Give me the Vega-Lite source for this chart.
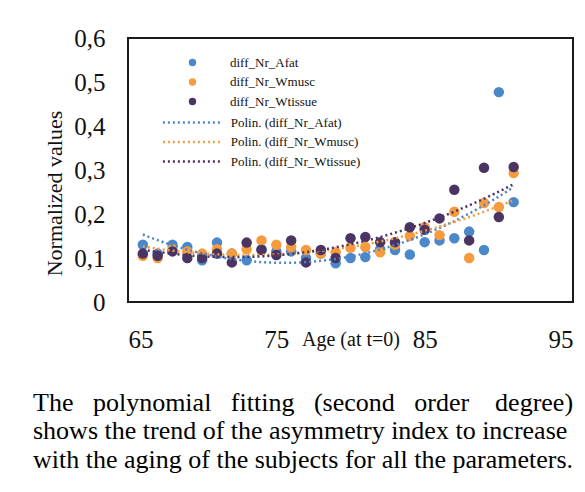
{
  "$schema": "https://vega.github.io/schema/vega-lite/v6.json",
  "width": 445,
  "height": 264,
  "autosize": "none",
  "padding": {"left": 128, "top": 38, "right": 12, "bottom": 190},
  "background": "white",
  "config": {
    "font": "Liberation Serif",
    "view": {"stroke": "#1a1a1a", "strokeWidth": 2},
    "axis": {"grid": false, "domain": false, "ticks": false, "labelFont": "Liberation Serif", "titleFont": "Liberation Serif", "labelColor": "#111111", "titleColor": "#111111", "titleFontWeight": "normal"},
    "legend": {"labelFont": "Liberation Serif", "labelColor": "#111111"}
  },
  "title": {
    "text": ["The\u00a0\u00a0 polynomial\u00a0\u00a0 fitting\u00a0\u00a0 (second\u00a0\u00a0 order\u00a0\u00a0\u00a0 degree)", "shows the trend of the asymmetry index to increase", "with the aging of the subjects for all the parameters."],
    "orient": "bottom",
    "anchor": "start",
    "frame": "group",
    "font": "Liberation Serif",
    "fontSize": 26,
    "fontWeight": "normal",
    "color": "#000000",
    "lineHeight": 28.3,
    "offset": 38,
    "dx": -95
  },
  "data": {
    "values": [
      {"age": 66, "series": "diff_Nr_Afat", "value": 0.13},
      {"age": 67, "series": "diff_Nr_Afat", "value": 0.11},
      {"age": 68, "series": "diff_Nr_Afat", "value": 0.13},
      {"age": 69, "series": "diff_Nr_Afat", "value": 0.125},
      {"age": 70, "series": "diff_Nr_Afat", "value": 0.095},
      {"age": 71, "series": "diff_Nr_Afat", "value": 0.135},
      {"age": 72, "series": "diff_Nr_Afat", "value": 0.11},
      {"age": 73, "series": "diff_Nr_Afat", "value": 0.095},
      {"age": 74, "series": "diff_Nr_Afat", "value": 0.12},
      {"age": 75, "series": "diff_Nr_Afat", "value": 0.115},
      {"age": 76, "series": "diff_Nr_Afat", "value": 0.115},
      {"age": 77, "series": "diff_Nr_Afat", "value": 0.1},
      {"age": 78, "series": "diff_Nr_Afat", "value": 0.11},
      {"age": 79, "series": "diff_Nr_Afat", "value": 0.088},
      {"age": 80, "series": "diff_Nr_Afat", "value": 0.1},
      {"age": 81, "series": "diff_Nr_Afat", "value": 0.102},
      {"age": 82, "series": "diff_Nr_Afat", "value": 0.12},
      {"age": 83, "series": "diff_Nr_Afat", "value": 0.118},
      {"age": 84, "series": "diff_Nr_Afat", "value": 0.108},
      {"age": 85, "series": "diff_Nr_Afat", "value": 0.136},
      {"age": 86, "series": "diff_Nr_Afat", "value": 0.14},
      {"age": 87, "series": "diff_Nr_Afat", "value": 0.145},
      {"age": 88, "series": "diff_Nr_Afat", "value": 0.16},
      {"age": 89, "series": "diff_Nr_Afat", "value": 0.118},
      {"age": 90, "series": "diff_Nr_Afat", "value": 0.477},
      {"age": 91, "series": "diff_Nr_Afat", "value": 0.227},
      {"age": 66, "series": "diff_Nr_Wmusc", "value": 0.105},
      {"age": 67, "series": "diff_Nr_Wmusc", "value": 0.1},
      {"age": 68, "series": "diff_Nr_Wmusc", "value": 0.12},
      {"age": 69, "series": "diff_Nr_Wmusc", "value": 0.115},
      {"age": 70, "series": "diff_Nr_Wmusc", "value": 0.11},
      {"age": 71, "series": "diff_Nr_Wmusc", "value": 0.12},
      {"age": 72, "series": "diff_Nr_Wmusc", "value": 0.11},
      {"age": 73, "series": "diff_Nr_Wmusc", "value": 0.12},
      {"age": 74, "series": "diff_Nr_Wmusc", "value": 0.14},
      {"age": 75, "series": "diff_Nr_Wmusc", "value": 0.13},
      {"age": 76, "series": "diff_Nr_Wmusc", "value": 0.125},
      {"age": 77, "series": "diff_Nr_Wmusc", "value": 0.118},
      {"age": 78, "series": "diff_Nr_Wmusc", "value": 0.11},
      {"age": 79, "series": "diff_Nr_Wmusc", "value": 0.113},
      {"age": 80, "series": "diff_Nr_Wmusc", "value": 0.123},
      {"age": 81, "series": "diff_Nr_Wmusc", "value": 0.125},
      {"age": 82, "series": "diff_Nr_Wmusc", "value": 0.113},
      {"age": 83, "series": "diff_Nr_Wmusc", "value": 0.13},
      {"age": 84, "series": "diff_Nr_Wmusc", "value": 0.15},
      {"age": 85, "series": "diff_Nr_Wmusc", "value": 0.17},
      {"age": 86, "series": "diff_Nr_Wmusc", "value": 0.152},
      {"age": 87, "series": "diff_Nr_Wmusc", "value": 0.205},
      {"age": 88, "series": "diff_Nr_Wmusc", "value": 0.1},
      {"age": 89, "series": "diff_Nr_Wmusc", "value": 0.225},
      {"age": 90, "series": "diff_Nr_Wmusc", "value": 0.216},
      {"age": 91, "series": "diff_Nr_Wmusc", "value": 0.293},
      {"age": 66, "series": "diff_Nr_Wtissue", "value": 0.11},
      {"age": 67, "series": "diff_Nr_Wtissue", "value": 0.105},
      {"age": 68, "series": "diff_Nr_Wtissue", "value": 0.115},
      {"age": 69, "series": "diff_Nr_Wtissue", "value": 0.1},
      {"age": 70, "series": "diff_Nr_Wtissue", "value": 0.1},
      {"age": 71, "series": "diff_Nr_Wtissue", "value": 0.11},
      {"age": 72, "series": "diff_Nr_Wtissue", "value": 0.09},
      {"age": 73, "series": "diff_Nr_Wtissue", "value": 0.135},
      {"age": 74, "series": "diff_Nr_Wtissue", "value": 0.118},
      {"age": 75, "series": "diff_Nr_Wtissue", "value": 0.107},
      {"age": 76, "series": "diff_Nr_Wtissue", "value": 0.14},
      {"age": 77, "series": "diff_Nr_Wtissue", "value": 0.09},
      {"age": 78, "series": "diff_Nr_Wtissue", "value": 0.118},
      {"age": 79, "series": "diff_Nr_Wtissue", "value": 0.1},
      {"age": 80, "series": "diff_Nr_Wtissue", "value": 0.145},
      {"age": 81, "series": "diff_Nr_Wtissue", "value": 0.148},
      {"age": 82, "series": "diff_Nr_Wtissue", "value": 0.136},
      {"age": 83, "series": "diff_Nr_Wtissue", "value": 0.136},
      {"age": 84, "series": "diff_Nr_Wtissue", "value": 0.17},
      {"age": 85, "series": "diff_Nr_Wtissue", "value": 0.164},
      {"age": 86, "series": "diff_Nr_Wtissue", "value": 0.19},
      {"age": 87, "series": "diff_Nr_Wtissue", "value": 0.255},
      {"age": 88, "series": "diff_Nr_Wtissue", "value": 0.14},
      {"age": 89, "series": "diff_Nr_Wtissue", "value": 0.305},
      {"age": 90, "series": "diff_Nr_Wtissue", "value": 0.193},
      {"age": 91, "series": "diff_Nr_Wtissue", "value": 0.307}
    ]
  },
  "layer": [
    {
      "mark": {"type": "point", "filled": true, "opacity": 1, "size": 110},
      "encoding": {
        "x": {"field": "age", "type": "quantitative", "scale": {"domain": [65, 95], "nice": false},
          "axis": {"values": [65, 75, 85, 95], "labelFontSize": 25, "labelPadding": 25, "labelBaseline": "top", "title": "Age (at t=0)", "titleFontSize": 20, "titleX": 222.5, "titleY": 43, "titleBaseline": "alphabetic"}},
        "y": {"field": "value", "type": "quantitative", "scale": {"domain": [0, 0.6], "nice": false},
          "axis": {"values": [0, 0.1, 0.2, 0.3, 0.4, 0.5, 0.6], "labelFontSize": 25, "labelPadding": 23, "labelExpr": "datum.value == 0 ? '0' : replace(format(datum.value, '.1f'), '.', ',')", "title": "Normalized values", "titleFontSize": 22, "titleX": -74, "titleY": 155, "titleAlign": "center", "titleBaseline": "middle", "titleAngle": 270}},
        "color": {"field": "series", "type": "nominal",
          "scale": {"domain": ["diff_Nr_Afat", "diff_Nr_Wmusc", "diff_Nr_Wtissue"], "range": ["#4A88C9", "#F79C3E", "#4A3464"]},
          "legend": {"title": null, "orient": "none", "legendX": 58, "legendY": 18, "padding": 0, "symbolType": "circle", "symbolSize": 55, "labelFontSize": 13, "labelOffset": 31, "rowPadding": 5.5}}
      }
    },
    {
      "transform": [
        {"regression": "value", "on": "age", "groupby": ["series"], "method": "poly", "order": 2},
        {"calculate": "'Polin. (' + datum.series + ')'", "as": "trend"}
      ],
      "mark": {"type": "line", "strokeDash": [2, 3], "strokeWidth": 2.5},
      "encoding": {
        "x": {"field": "age", "type": "quantitative"},
        "y": {"field": "value", "type": "quantitative"},
        "stroke": {"field": "trend", "type": "nominal",
          "scale": {"domain": ["Polin. (diff_Nr_Afat)", "Polin. (diff_Nr_Wmusc)", "Polin. (diff_Nr_Wtissue)"], "range": ["#4A88C9", "#F79C3E", "#4A3464"]},
          "legend": {"title": null, "orient": "none", "legendX": 57.4, "legendY": 78, "padding": 0, "symbolType": "M-8,0H8", "symbolSize": 52.6, "symbolFillColor": "transparent", "symbolStrokeWidth": 2.5, "symbolDash": [2, 3], "labelFontSize": 13, "labelOffset": 32.3, "rowPadding": 5.5}}
      }
    }
  ]
}
